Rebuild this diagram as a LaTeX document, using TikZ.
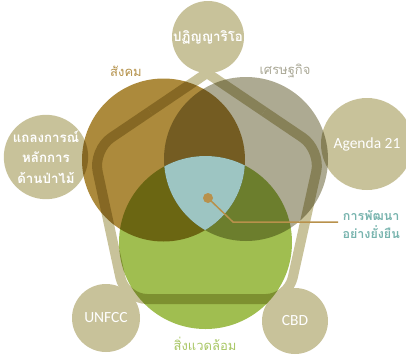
\documentclass[tikz,border=0pt]{standalone}
\usepackage{fontspec}
\setmainfont{Carlito}
\newfontfamily\thaifont[Script=Thai]{Loma}
\usetikzlibrary{calc}
\begin{document}
\definecolor{khaki}{HTML}{C8C29A}
\definecolor{socc}{HTML}{AC8A3C}
\definecolor{ecoc}{HTML}{ADAA92}
\definecolor{envc}{HTML}{A0BE50}
\definecolor{corec}{HTML}{9DC5C2}
\definecolor{goldc}{HTML}{B8914B}
\definecolor{soctext}{HTML}{B4914A}
\definecolor{ecotext}{HTML}{AAA896}
\definecolor{envtext}{HTML}{A8C664}
\definecolor{coretext}{HTML}{78B4AE}
\begin{tikzpicture}[x=1pt,y=-1pt,
  outer/.style={circle, fill=khaki, inner sep=0pt, outer sep=0pt, text=white, align=center},
  venn/.style={circle, inner sep=0pt, outer sep=0pt},
  thai/.style={font=\thaifont\bfseries\fontsize{13.3}{20.5}\selectfont},
  latin/.style={font=\fontsize{15.5}{17}\selectfont},
  caption/.style={font=\thaifont\fontsize{13}{15}\selectfont},
  frame/.style={khaki, line width=10pt}]
  \useasboundingbox (0,0) rectangle (406,359);

  % corners of the frame linking the five agreements
  \coordinate (pT)  at (207,73);
  \coordinate (pL)  at (93,150);
  \coordinate (pBL) at (125,299);
  \coordinate (pBR) at (288,299);
  \coordinate (pR)  at (321,150);
  \coordinate (mL) at ($(pT)!0.5!(pL)$);
  \coordinate (mR) at ($(pT)!0.5!(pR)$);
  \draw[frame, rounded corners=22pt] (mL) -- (pL) -- (pBL) -- (pBR) -- (pR) -- (mR);
  \draw[frame, line join=miter] (mR) -- (pT) -- (mL);

  % the five agreements
  \node[outer, thai, minimum size=72pt] (rio) at (208,37) {ปฏิญญาริโอ};
  \node[outer, thai, minimum size=84pt] (forest) at (46,157)
    {แถลงการณ์\\หลักการ\\ด้านป่าไม้};
  \node[outer, latin, minimum size=92pt] (agenda) at (367,144) {Agenda 21};
  \node[outer, latin, minimum size=68pt] (unfccc) at (106,318) {UNFCC};
  \node[outer, latin, minimum size=66pt] (cbd) at (295,321) {CBD};

  % the three pillars, overlapping
  \begin{scope}[blend mode=multiply]
    \node[venn, fill=socc, minimum size=163pt] (soc) at (163.5,160) {};
    \node[venn, fill=ecoc, minimum size=164pt] (eco) at (246,159) {};
    \node[venn, fill=envc, minimum size=173pt] (env) at (205.5,242.5) {};
  \end{scope}

  % the common core of all three
  \begin{scope}
    \clip (soc.center) circle (81.5pt);
    \clip (eco.center) circle (82pt);
    \fill[corec] (env.center) circle (86.5pt);
  \end{scope}

  % pillar captions
  \node[caption, text=soctext] (soclbl) at (126,71) {สังคม};
  \node[caption, text=ecotext] (ecolbl) at (285,71) {เศรษฐกิจ};
  \node[caption, text=envtext] (envlbl) at (205,344) {สิ่งแวดล้อม};

  % core marker and its caption
  \node[circle, fill=goldc, inner sep=0pt, minimum size=10pt] (dot) at (208,198) {};
  \node[caption, text=coretext, align=center, anchor=west,
        font=\thaifont\bfseries\fontsize{12.5}{18}\selectfont] (core) at (339,224)
    {การพัฒนา\\อย่างยั่งยืน};
  \coordinate (elbow) at (233,222);
  \coordinate (lineend) at (338,222);
  \draw[goldc, line width=1.5pt] (dot.center) -- (elbow) -- (lineend);
\end{tikzpicture}
\end{document}
